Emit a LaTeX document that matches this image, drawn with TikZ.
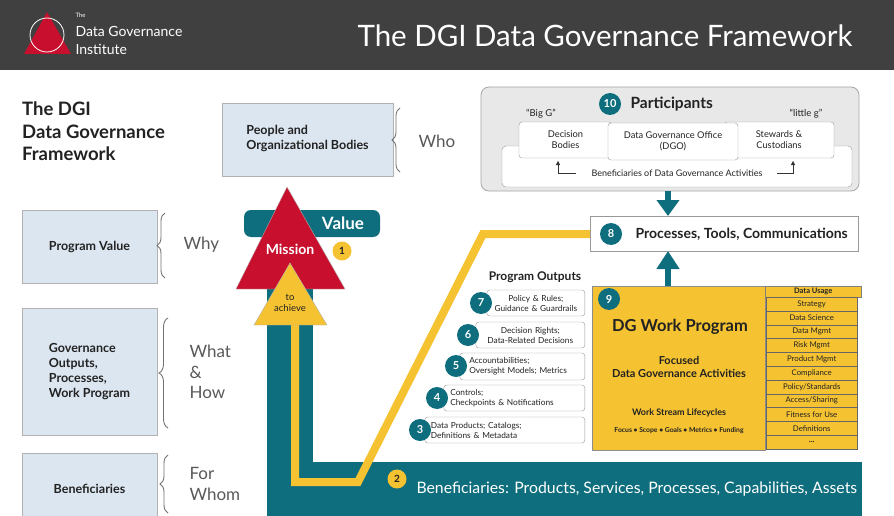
\documentclass[tikz,border=0pt]{standalone}
\usepackage{fontspec}
\setmainfont{Lato}
\usetikzlibrary{arrows.meta,decorations.pathreplacing}
\definecolor{teal}{HTML}{0E6E7E}
\definecolor{dgyel}{HTML}{F5C232}
\definecolor{dgred}{HTML}{C8102E}
\definecolor{lblue}{HTML}{DCE6F0}
\definecolor{hdr}{HTML}{404040}
\definecolor{txt}{HTML}{222222}
\newlength{\fslen}
\newcommand{\fs}[1]{\setlength{\fslen}{#1pt}\fontsize{\fslen}{1.2\fslen}\selectfont}
\tikzset{
 x=1pt,y=-1pt,
 lbox/.style={draw=black!30,fill=lblue,line width=0.8pt,text=txt,align=center,font=\bfseries\fs{12.5}},
 obox/.style={draw=black!40,fill=white,rounded corners=3pt,align=left,font=\fs{8.3},text=txt,inner sep=2pt},
 tbadge/.style={circle,fill=teal,text=white,font=\bfseries\fs{11},minimum size=22pt,inner sep=0pt},
 ybadge/.style={circle,fill=dgyel,text=txt,font=\bfseries\fs{10},minimum size=19pt,inner sep=0pt},
 brlbl/.style={font=\fs{17},text=black!65,anchor=west,align=left},
 brc/.style={draw=black!55,line width=0.9pt,decorate},
 usage/.style={draw=black!60,fill=dgyel,font=\fs{7.8},text=txt,minimum width=91pt,minimum height=13.8pt,inner sep=0pt,anchor=north west},
}
\begin{document}
\begin{tikzpicture}
\useasboundingbox (0,0) rectangle (894,516);
\fill[white] (0,0) rectangle (894,516);
% header
\fill[hdr] (0,0) rectangle (894,70);
\fill[dgred] (47,12) -- (24,54) -- (71,54) -- cycle;
\draw[white,line width=0.8pt] (47,35) circle (17);
\node[anchor=west,text=white,font=\fs{6}] (th) at (72,15) {The};
\node[anchor=west,text=white,font=\fs{14}] (dgn) at (72,31) {Data Governance};
\node[anchor=west,text=white,font=\fs{14}] (ins) at (72,49) {Institute};
\node[text=white,font=\fs{29.5}] (title) at (605,36) {The DGI Data Governance Framework};
% left title
\node[anchor=north west,align=left,font=\bfseries\fs{18.5},text=txt,inner sep=0pt] (lt) at (22,102) {The DGI\\Data Governance\\Framework};
% left boxes
\node[lbox,minimum width=135pt,minimum height=73pt] (pv) at (89.5,246.5) {Program Value};
\node[lbox,minimum width=135pt,minimum height=127pt] (go) at (89.5,371.5) {\begin{tabular}{@{}l@{}}Governance\\Outputs,\\Processes,\\Work Program\end{tabular}};
\node[lbox,minimum width=135pt,minimum height=70pt,anchor=north] (bf) at (89.5,453) {Beneficiaries};
\node[lbox,minimum width=171pt,minimum height=73pt] (pob) at (307.5,139.5) {\begin{tabular}{@{}l@{}}People and\\Organizational Bodies\end{tabular}};
% braces
\draw[brc,decoration={brace,amplitude=8pt}] (400,172) -- (400,108);
\node[brlbl] (who) at (415,141) {Who};
\draw[brc,decoration={brace,amplitude=8pt}] (165,278) -- (165,213);
\node[brlbl] (why) at (180,245) {Why};
\draw[brc,decoration={brace,amplitude=9pt}] (168,428) -- (168,318);
\node[brlbl,align=left] (wh) at (186,372) {What\\\&\\How};
\draw[brc,decoration={brace,amplitude=8pt}] (168,513) -- (168,455);
\node[brlbl] (fw) at (186,484) {For\\Whom};
% teal L
\fill[teal] (267,250) rectangle (313,516);
\fill[teal] (267,462) rectangle (862,516);
\fill[teal,rounded corners=7pt] (244,210) rectangle (380,237);
\node[text=white,font=\bfseries\fs{17}] (val) at (343,223) {Value};
% yellow path
\draw[dgyel,line width=8pt,line join=miter] (295,320) -- (295,482) -- (358,482) -- (483,234) -- (592,234);
% triangles
\fill[dgred,draw=black!30] (287,187) -- (236,289) -- (345,289) -- cycle;
\node[text=white,font=\bfseries\fs{14}] (mis) at (290,249) {Mission};
\node[ybadge] (b1) at (342,251) {1};
\fill[dgyel,draw=black!30] (290,263) -- (254,325) -- (327,325) -- cycle;
\node[font=\fs{9.5},text=txt,align=center] (ach) at (290,303) {to\\achieve};
% bottom bar text
\node[ybadge] (b2) at (397,479) {2};
\node[anchor=west,text=white,font=\fs{15.8}] (bentxt) at (413,489) {Beneficiaries: Products, Services, Processes, Capabilities, Assets};
% participants
\draw[black!35,fill=black!9,rounded corners=8pt,line width=0.8pt] (481,87) rectangle (859,191);
\draw[black!40,fill=white,rounded corners=4pt] (502,146) rectangle (852,187);
\node[tbadge] (b10) at (610,104) {10};
\node[anchor=west,font=\bfseries\fs{15.5},text=txt] (part) at (627,104) {Participants};
\node[font=\fs{9.5},text=txt] (bg) at (541,114) {“Big G”};
\node[font=\fs{9.5},text=txt] (lg) at (806,114) {“little g”};
\node[obox,minimum width=93pt,minimum height=36pt,align=center,font=\fs{9.3}] (db) at (565.5,140) {Decision\\Bodies};
\node[obox,minimum width=110pt,minimum height=36pt,align=center,font=\fs{9.3}] (st) at (779,140) {Stewards \&\\Custodians};
\node[obox,minimum width=130pt,minimum height=37pt,align=center,font=\fs{9.3}] (dgo) at (673,141.5) {Data Governance Office\\(DGO)};
\node[font=\fs{9},text=txt] (bdga) at (677,173) {Beneficiaries of Data Governance Activities};
\draw[-{Triangle[length=4pt,width=4pt]},black!80] (576,173) -- (558,173) -- (558,161);
\draw[-{Triangle[length=4pt,width=4pt]},black!80] (777,173) -- (793,173) -- (793,161);
% box 8
\node[draw=black!40,fill=white,minimum width=268pt,minimum height=35pt,inner sep=0pt] (p8) at (724,233.5) {};
\node[tbadge] (b8) at (611,234) {8};
\node[anchor=west,font=\bfseries\fs{14},text=txt] (p8t) at (632,234) {Processes, Tools, Communications};
% teal arrows
\draw[teal,line width=6pt,-{Triangle[length=16pt,width=22pt]}] (668,191) -- (668,216);
\draw[teal,line width=6pt,-{Triangle[length=18pt,width=22pt]}] (668,287) -- (668,251);
% program outputs
\node[font=\bfseries\fs{12},text=txt] (pot) at (535,277) {Program Outputs};
\node[obox,minimum width=98pt,minimum height=26pt,anchor=east,align=center,text width=88pt] (o7) at (585,303) {Policy \& Rules;\\Guidance \& Guardrails};
\node[tbadge] at (481,303) {7};
\node[obox,minimum width=109pt,minimum height=26pt,anchor=east,align=center,text width=98pt] (o6) at (585,335) {Decision Rights;\\Data-Related Decisions};
\node[tbadge] at (468,335) {6};
\node[obox,minimum width=125pt,minimum height=27pt,anchor=east,align=left,text width=106pt] (o5) at (585,366.5) {Accountabilities;\\Oversight Models; Metrics};
\node[tbadge] at (456,366) {5};
\node[obox,minimum width=141pt,minimum height=26pt,anchor=east,align=left,text width=128pt] (o4) at (585,398) {Controls;\\Checkpoints \& Notifications};
\node[tbadge] at (437,398) {4};
\node[obox,minimum width=160pt,minimum height=26pt,anchor=east,align=left,text width=148pt] (o3) at (585,430) {Data Products; Catalogs;\\Definitions \& Metadata};
\node[tbadge] at (420,430) {3};
% DG work program
\draw[black!45,fill=dgyel,line width=0.8pt] (592,286) rectangle (765,450);
\node[tbadge] (b9) at (609,299) {9};
\node[font=\bfseries\fs{16.5},text=txt] (dgw) at (680,327) {DG Work Program};
\node[font=\bfseries\fs{11},text=txt,align=center] (foc) at (679,367) {Focused\\Data Governance Activities};
\node[font=\bfseries\fs{9},text=txt] (wsl) at (679,413) {Work Stream Lifecycles};
\node[font=\bfseries\fs{6.8},text=txt] (fsg) at (679,431) {Focus • Scope • Goals • Metrics • Funding};
\node[draw=black!50,fill=dgyel,minimum width=96pt,minimum height=11pt,inner sep=0pt,anchor=north west,font=\bfseries\fs{7.5},text=txt] (du) at (765,286) {Data Usage};
\foreach \t [count=\i from 0] in {Strategy,Data Science,Data Mgmt,Risk Mgmt,Product Mgmt,Compliance,Policy/Standards,Access/Sharing,Fitness for Use,Definitions,\textbf{...}}
  \node[usage] (u\i) at (766,297+13.8*\i) {\t};
\end{tikzpicture}
\end{document}
